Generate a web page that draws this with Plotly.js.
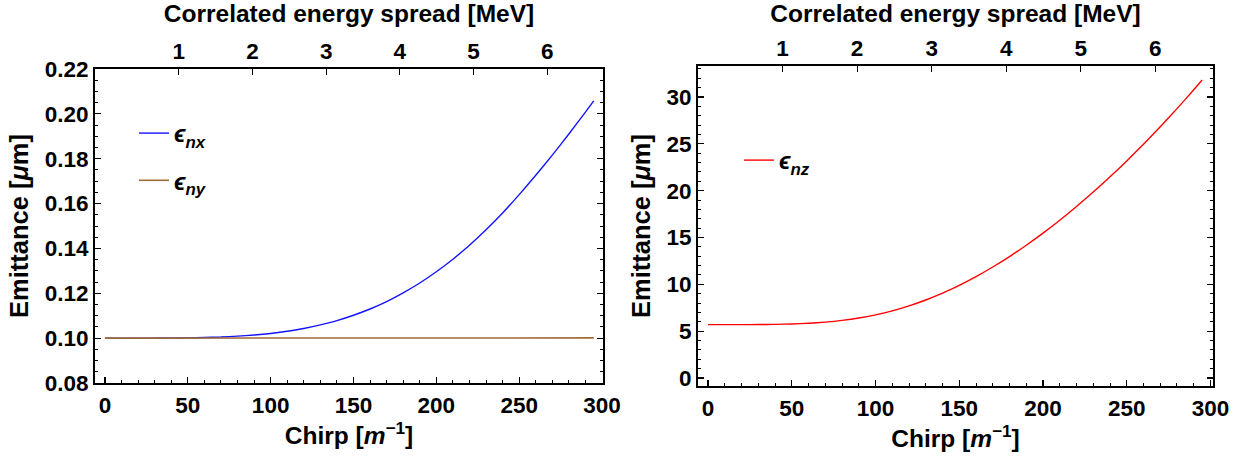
<!DOCTYPE html>
<html>
<head>
<meta charset="utf-8">
<script src="https://cdn.plot.ly/plotly-3.0.1.min.js"></script>
<style>html,body{margin:0;padding:0;background:#fff;}#chart{width:1241px;height:456px;}</style>
</head>
<body>
<div id="chart"></div>
<script>
// ---- data ----
const chirp = [0, 10, 20, 30, 40, 50, 60, 70, 80, 90, 100, 110, 120, 130, 140, 150, 160, 170, 180, 190, 200, 210, 220, 230, 240, 250, 260, 270, 280, 290, 295];
const emitNX = [0.1000, 0.1000, 0.1000, 0.1000, 0.1001, 0.1001, 0.1003, 0.1005, 0.1009, 0.1014, 0.1021, 0.1031, 0.1043, 0.1059, 0.1078, 0.1102, 0.1130, 0.1163, 0.1202, 0.1246, 0.1296, 0.1352, 0.1414, 0.1483, 0.1558, 0.1640, 0.1726, 0.1816, 0.1910, 0.2008, 0.2058];
const emitNY = [0.1000, 0.1000, 0.1000, 0.1000, 0.1000, 0.1000, 0.1000, 0.1000, 0.1000, 0.1000, 0.1000, 0.1000, 0.1000, 0.1000, 0.1000, 0.1000, 0.1000, 0.1000, 0.1000, 0.1000, 0.1000, 0.1000, 0.1000, 0.1000, 0.1000, 0.1000, 0.1000, 0.1001, 0.1001, 0.1001, 0.1001];
const emitNZ = [5.70, 5.70, 5.70, 5.71, 5.73, 5.77, 5.85, 5.97, 6.15, 6.40, 6.74, 7.17, 7.70, 8.33, 9.06, 9.89, 10.82, 11.85, 12.96, 14.17, 15.46, 16.84, 18.30, 19.85, 21.47, 23.17, 24.96, 26.81, 28.75, 30.76, 31.80];
const energyTicks = [1, 2, 3, 4, 5, 6];
const chirpPerMeV = 44.5;   // chirp units per MeV of correlated energy spread
const seriesNames = ['<b><i>ϵ</i><sub><i>nx</i></sub></b>', '<b><i>ϵ</i><sub><i>ny</i></sub></b>', '<b><i>ϵ</i><sub><i>nz</i></sub></b>'];

// ---- layout helpers ----
const W = 1241, H = 456;
const px = v => v / W, py = v => 1 - v / H;
const FONT = 'Liberation Sans, Arial, sans-serif';
const tickFont = {family: FONT, size: 22.5, color: '#000', weight: 'bold'};
const titleFont = {family: FONT, size: 24.5, color: '#000', weight: 'bold'};
const yTitleFont = {family: FONT, size: 25.5, color: '#000', weight: 'bold'};

const xRange1 = [-6, 300.6], xRange2 = [-6, 301.5];

function bottomAxis(domain, range, anchor) {
  return {
    domain: domain, range: range, anchor: anchor,
    tickmode: 'linear', tick0: 0, dtick: 50,
    ticks: 'inside', ticklen: 6, tickwidth: 1.2, tickcolor: '#000',
    minor: {tickmode: 'linear', tick0: 0, dtick: 10, ticks: 'inside', ticklen: 3, tickwidth: 1, tickcolor: '#000', showgrid: false},
    showline: true, linewidth: 2, linecolor: '#000', mirror: true,
    showgrid: false, zeroline: false,
    tickfont: tickFont, ticklabelstandoff: 1,
    title: {text: '<b>Chirp [<i>m</i><sup>−1</sup>]</b>', font: titleFont, standoff: 10},
    automargin: false
  };
}
function topAxis(overlay, anchor, range) {
  return {
    overlaying: overlay, anchor: anchor, side: 'top',
    range: [range[0] / chirpPerMeV, range[1] / chirpPerMeV],
    tickmode: 'array', tickvals: energyTicks, ticktext: energyTicks.map(String),
    ticks: 'inside', ticklen: 6, tickwidth: 1.2, tickcolor: '#000',
    showline: false, showgrid: false, zeroline: false,
    tickfont: tickFont, ticklabelstandoff: 5,
    title: {text: '<b>Correlated energy spread [MeV]</b>', font: titleFont, standoff: 10},
    automargin: false
  };
}
function leftAxis(domain, range, anchor, dtick, tick0, minorDtick, fmt) {
  return {
    domain: domain, range: range, anchor: anchor,
    tickmode: 'linear', tick0: tick0, dtick: dtick, tickformat: fmt,
    ticks: 'inside', ticklen: 6, tickwidth: 1.2, tickcolor: '#000',
    minor: {tickmode: 'linear', tick0: tick0, dtick: minorDtick, ticks: 'inside', ticklen: 3, tickwidth: 1, tickcolor: '#000', showgrid: false},
    showline: true, linewidth: 2, linecolor: '#000', mirror: 'ticks',
    showgrid: false, zeroline: false, tickfont: tickFont, ticklabelstandoff: 0,
    title: {text: '<b>Emittance [<i>μ</i>m]</b>', font: yTitleFont, standoff: 9},
    automargin: false
  };
}

const traces = [
  {x: chirp, y: emitNX, xaxis: 'x', yaxis: 'y', type: 'scatter', mode: 'lines', name: seriesNames[0],
   line: {color: '#1414FF', width: 1.4, shape: 'spline', smoothing: 0.5}, legend: 'legend', legendgroup: 'a'},
  {x: chirp, y: emitNY, xaxis: 'x', yaxis: 'y', type: 'scatter', mode: 'lines', name: seriesNames[1],
   line: {color: '#A06A36', width: 1.6}, legend: 'legend', legendgroup: 'b'},
  {x: [null], y: [null], xaxis: 'x3', yaxis: 'y', type: 'scatter', mode: 'lines', showlegend: false, hoverinfo: 'skip'},
  {x: chirp, y: emitNZ, xaxis: 'x2', yaxis: 'y2', type: 'scatter', mode: 'lines', name: seriesNames[2],
   line: {color: '#FF0000', width: 1.4, shape: 'spline', smoothing: 0.5}, legend: 'legend2'},
  {x: [null], y: [null], xaxis: 'x4', yaxis: 'y2', type: 'scatter', mode: 'lines', showlegend: false, hoverinfo: 'skip'}
];

const layout = {
  width: W, height: H,
  margin: {l: 0, r: 0, t: 0, b: 0},
  paper_bgcolor: '#fff', plot_bgcolor: '#fff',
  showlegend: true,
  xaxis: bottomAxis([px(95), px(603)], xRange1, 'y'),
  xaxis2: bottomAxis([px(698), px(1213)], xRange2, 'y2'),
  xaxis3: topAxis('x', 'y', xRange1),
  xaxis4: topAxis('x2', 'y2', xRange2),
  yaxis: leftAxis([py(383), py(69)], [0.08, 0.22], 'x', 0.02, 0.08, 0.005, '.2f'),
  yaxis2: leftAxis([py(386), py(66)], [-0.85, 33.3], 'x2', 5, 0, 1, ''),
  legend: {
    x: px(134), y: py(111), xanchor: 'left', yanchor: 'top',
    bgcolor: 'rgba(0,0,0,0)', borderwidth: 0,
    font: {family: FONT, size: 24, color: '#000'},
    traceorder: 'grouped', tracegroupgap: 13
  },
  legend2: {
    x: px(739), y: py(138), xanchor: 'left', yanchor: 'top',
    bgcolor: 'rgba(0,0,0,0)', borderwidth: 0,
    font: {family: FONT, size: 24, color: '#000'}
  }
};

Plotly.newPlot('chart', traces, layout, {displayModeBar: false, staticPlot: true});
</script>
</body>
</html>
